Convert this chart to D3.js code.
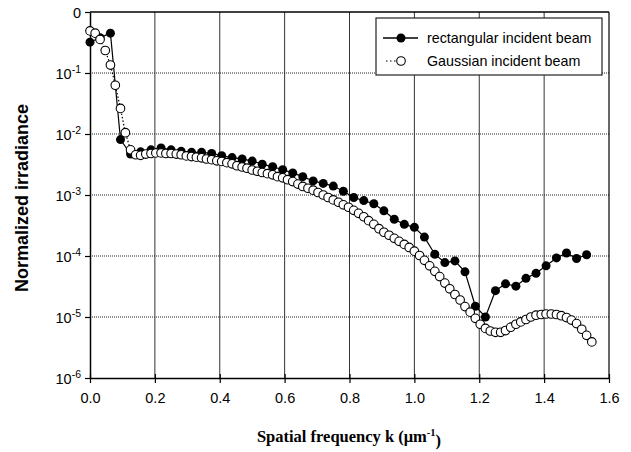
<!DOCTYPE html>
<html><head><meta charset="utf-8">
<script src="https://cdn.jsdelivr.net/npm/d3@7"></script>
<style>
body{margin:0;background:#fff;}
svg text{font-family:"Liberation Sans",Arial,sans-serif;fill:#000;}
</style></head>
<body><svg id="c" width="631" height="452"></svg>
<script>
// ---- data ----
const xTicks = [0.0, 0.2, 0.4, 0.6, 0.8, 1.0, 1.2, 1.4, 1.6];
const yTicks = [1, 1e-1, 1e-2, 1e-3, 1e-4, 1e-5, 1e-6];
const yTickExp = ["0", "-1", "-2", "-3", "-4", "-5", "-6"];
const seriesNames = ["rectangular incident beam", "Gaussian incident beam"];

const kRect = [
  0.000, 0.031, 0.063, 0.094, 0.125, 0.156, 0.188, 0.219, 0.250, 0.281,
  0.313, 0.344, 0.375, 0.406, 0.438, 0.469, 0.500, 0.531, 0.563, 0.594,
  0.625, 0.656, 0.688, 0.719, 0.750, 0.781, 0.813, 0.844, 0.875, 0.906,
  0.938, 0.969, 1.000, 1.031, 1.063, 1.094, 1.125, 1.156, 1.188, 1.219,
  1.250, 1.281, 1.313, 1.344, 1.375, 1.406, 1.438, 1.469, 1.500, 1.531];
const rectVals = [
  0.32, 0.38, 0.45, 0.0081, 0.0047, 0.0051, 0.0055, 0.0059, 0.0055, 0.0052,
  0.0050, 0.0050, 0.0048, 0.0044, 0.0041, 0.0039, 0.0036, 0.0032, 0.0029, 0.0026,
  0.0023, 0.0020, 0.0017, 0.00155, 0.0014, 0.00115, 9.1e-4, 8.1e-4, 7.2e-4, 5.5e-4,
  4.0e-4, 3.3e-4, 2.95e-4, 2.04e-4, 1.07e-4, 7.8e-5, 8.3e-5, 5.5e-5, 1.5e-5, 1.0e-5,
  2.7e-5, 3.5e-5, 3.2e-5, 4.3e-5, 5.2e-5, 6.9e-5, 9.3e-5, 1.12e-4, 9.1e-5, 1.05e-4];

const kGauss = [
  0.000, 0.016, 0.031, 0.047, 0.063, 0.078, 0.094, 0.109, 0.125, 0.141,
  0.156, 0.172, 0.188, 0.203, 0.219, 0.234, 0.250, 0.266, 0.281, 0.297,
  0.313, 0.328, 0.344, 0.359, 0.375, 0.391, 0.406, 0.422, 0.438, 0.453,
  0.469, 0.484, 0.500, 0.516, 0.531, 0.547, 0.563, 0.578, 0.594, 0.609,
  0.625, 0.641, 0.656, 0.672, 0.688, 0.703, 0.719, 0.734, 0.750, 0.766,
  0.781, 0.797, 0.813, 0.828, 0.844, 0.859, 0.875, 0.891, 0.906, 0.922,
  0.938, 0.953, 0.969, 0.984, 1.000, 1.016, 1.031, 1.047, 1.063, 1.078,
  1.094, 1.109, 1.125, 1.141, 1.156, 1.172, 1.188, 1.203, 1.219, 1.234,
  1.250, 1.266, 1.281, 1.297, 1.313, 1.328, 1.344, 1.359, 1.375, 1.391,
  1.406, 1.422, 1.438, 1.453, 1.469, 1.484, 1.500, 1.516, 1.531, 1.547];
const gaussVals = [
  0.49, 0.45, 0.355, 0.234, 0.135, 0.063, 0.0263, 0.0105, 0.0055, 0.00457,
  0.00447, 0.00468, 0.00479, 0.0049, 0.0049, 0.00479, 0.00479, 0.00468, 0.00457, 0.00437,
  0.00427, 0.00417, 0.00407, 0.00389, 0.0038, 0.00363, 0.00355, 0.00339, 0.00324, 0.00302,
  0.00288, 0.00275, 0.00257, 0.00245, 0.00234, 0.00224, 0.00214, 0.0020, 0.00191, 0.00178,
  0.00166, 0.00151, 0.00138, 0.00129, 0.0012, 0.0011, 0.0010, 9.1e-4, 8.3e-4, 7.6e-4,
  6.9e-4, 6.3e-4, 5.6e-4, 5.0e-4, 4.4e-4, 3.8e-4, 3.3e-4, 2.8e-4, 2.45e-4, 2.19e-4,
  1.95e-4, 1.74e-4, 1.55e-4, 1.38e-4, 1.2e-4, 1.02e-4, 8.5e-5, 6.9e-5, 5.6e-5, 4.6e-5,
  3.6e-5, 2.9e-5, 2.34e-5, 1.9e-5, 1.48e-5, 1.2e-5, 9.5e-6, 7.6e-6, 6.5e-6, 5.9e-6,
  5.6e-6, 5.6e-6, 6.0e-6, 6.8e-6, 7.6e-6, 8.3e-6, 9.1e-6, 1.0e-5, 1.07e-5, 1.1e-5,
  1.12e-5, 1.12e-5, 1.1e-5, 1.05e-5, 9.8e-6, 8.9e-6, 7.8e-6, 6.3e-6, 5.0e-6, 3.9e-6];

// ---- layout ----
const L = 90, R = 609, T = 12, B = 378;
const svg = d3.select("#c");
const x = d3.scaleLinear().domain([0, 1.6]).range([L, R]);
const y = d3.scaleLog().domain([1e-6, 1]).range([B, T]);

// grid
const g = svg.append("g");
g.selectAll(".vg").data(xTicks.slice(1, -1)).enter().append("line")
  .attr("x1", d => x(d)).attr("x2", d => x(d)).attr("y1", T).attr("y2", B)
  .attr("stroke", "#333").attr("stroke-width", 1);
g.selectAll(".hg").data(yTicks.slice(1, -1)).enter().append("line")
  .attr("x1", L).attr("x2", R).attr("y1", d => y(d)).attr("y2", d => y(d))
  .attr("stroke", "#222").attr("stroke-width", 1).attr("stroke-dasharray", "1,1");

// frame top/right
svg.append("line").attr("x1", L).attr("x2", R).attr("y1", T).attr("y2", T).attr("stroke", "#000").attr("stroke-width", 1.5);
svg.append("line").attr("x1", R).attr("x2", R).attr("y1", T).attr("y2", B).attr("stroke", "#000").attr("stroke-width", 1.2);

// axes
const xAxis = d3.axisBottom(x).tickValues(xTicks).tickFormat(d3.format(".1f")).tickSizeInner(5).tickSizeOuter(0).tickPadding(10);
const xg = svg.append("g").attr("transform", `translate(0,${B})`).call(xAxis);
xg.select(".domain").attr("stroke", "#000").attr("stroke-width", 1.5);
xg.selectAll(".tick line").attr("y1", -4).attr("y2", 5).attr("stroke", "#000").attr("stroke-width", 1.2);
xg.selectAll(".tick text").attr("font-size", 14.5).attr("font-family", "Liberation Sans, Arial, sans-serif");

const yAxis = d3.axisLeft(y).tickValues(yTicks).tickFormat("").tickSizeInner(5).tickSizeOuter(0);
const yg = svg.append("g").attr("transform", `translate(${L},0)`).call(yAxis);
yg.select(".domain").attr("stroke", "#000").attr("stroke-width", 1.5);
yg.selectAll(".tick line").attr("stroke", "#000").attr("stroke-width", 1.2);
yg.selectAll(".tick").each(function(d, i) {
  const t = d3.select(this).append("text").attr("x", -9).attr("dy", "0.35em")
    .attr("text-anchor", "end").attr("font-size", 14.5);
  if (i === 0) { t.text(yTickExp[0]); }
  else {
    t.append("tspan").text("10");
    t.append("tspan").attr("font-size", 10.5).attr("dy", "-0.5em").text(yTickExp[i]);
  }
});

// series
const line = d3.line().x(d => x(d[0])).y(d => y(d[1]));
const rectData = kRect.map((k, i) => [k, rectVals[i]]);
const gaussData = kGauss.map((k, i) => [k, gaussVals[i]]);

svg.append("path").datum(rectData).attr("d", line).attr("fill", "none").attr("stroke", "#000").attr("stroke-width", 1.2);
svg.append("path").datum(gaussData).attr("d", line).attr("fill", "none").attr("stroke", "#000").attr("stroke-width", 1.2).attr("stroke-dasharray", "1.5,2");

svg.selectAll(".rp").data(rectData).enter().append("circle")
  .attr("cx", d => x(d[0])).attr("cy", d => y(d[1])).attr("r", 4.5).attr("fill", "#000");
svg.selectAll(".gp").data(gaussData).enter().append("circle")
  .attr("cx", d => x(d[0])).attr("cy", d => y(d[1])).attr("r", 4.3)
  .attr("fill", "#fff").attr("stroke", "#000").attr("stroke-width", 1.1);

// legend
const lg = svg.append("g");
lg.append("rect").attr("x", 376).attr("y", 18).attr("width", 226).attr("height", 57)
  .attr("fill", "#fff").attr("stroke", "#222").attr("stroke-width", 1.2);
lg.append("line").attr("x1", 383).attr("x2", 418).attr("y1", 38).attr("y2", 38).attr("stroke", "#000").attr("stroke-width", 1.5);
lg.append("circle").attr("cx", 401).attr("cy", 38).attr("r", 4.5).attr("fill", "#000");
lg.append("line").attr("x1", 386).attr("x2", 396).attr("y1", 61).attr("y2", 61).attr("stroke", "#000").attr("stroke-width", 1.2).attr("stroke-dasharray", "1.5,2.5");
lg.append("circle").attr("cx", 401).attr("cy", 61).attr("r", 4.3).attr("fill", "#fff").attr("stroke", "#000").attr("stroke-width", 1.1);
lg.append("text").attr("x", 427).attr("y", 38).attr("dy", "0.35em").attr("font-size", 14.3).text(seriesNames[0]);
lg.append("text").attr("x", 427).attr("y", 61).attr("dy", "0.35em").attr("font-size", 14.3).text(seriesNames[1]);

// axis titles
svg.append("text").attr("transform", "translate(28,198) rotate(-90)").attr("text-anchor", "middle")
  .attr("font-size", 18).attr("font-weight", "bold").text("Normalized irradiance");
const xt = svg.append("text").attr("x", 349).attr("y", 442).attr("text-anchor", "middle")
  .attr("font-size", 16.5).attr("font-weight", "bold").style("font-family", "Liberation Serif, Times New Roman, serif");
xt.append("tspan").text("Spatial frequency k (\u03bcm");
xt.append("tspan").attr("font-size", 10.5).attr("dy", "-0.6em").text("-1");
xt.append("tspan").attr("dy", "0.6em").text(")");
</script></body></html>
